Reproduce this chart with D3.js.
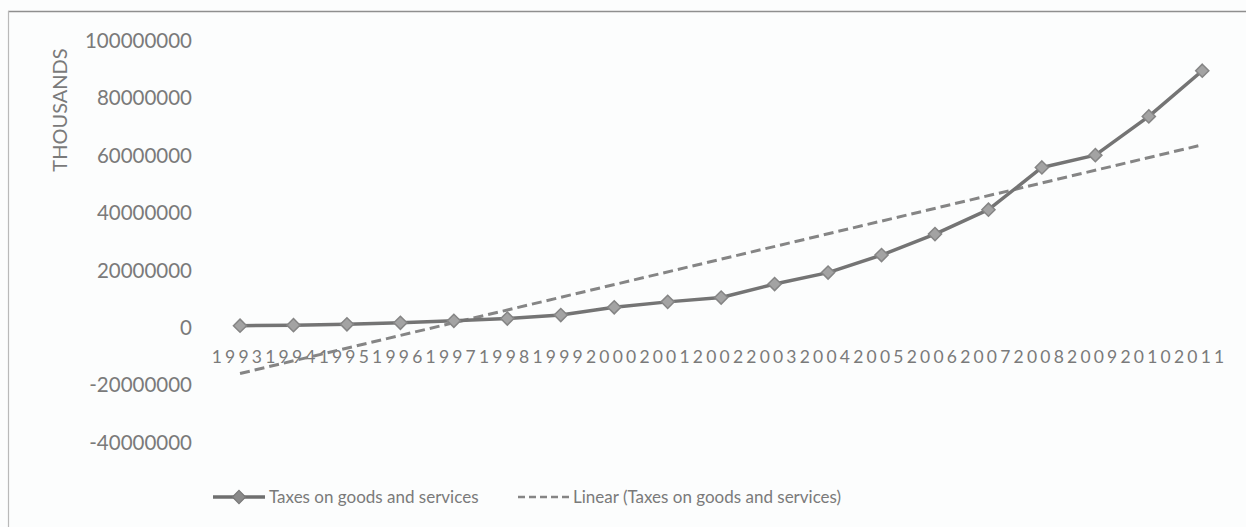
<!DOCTYPE html>
<html><head><meta charset="utf-8">
<script src="https://cdn.jsdelivr.net/npm/d3@7"></script>
<style>
html,body{margin:0;padding:0;background:#fcfdfd;}
svg{display:block;font-family:Lato,"Noto Sans",sans-serif;}
</style></head><body>
<svg id="chart" width="1246" height="527"></svg>
<script>
// ---- data ----
const years = ["1993","1994","1995","1996","1997","1998","1999","2000","2001","2002",
               "2003","2004","2005","2006","2007","2008","2009","2010","2011"];
const taxes = [500000, 700000, 1000000, 1500000, 2200000, 3000000, 4200000, 6900000, 8800000, 10300000,
               15000000, 19000000, 25100000, 32400000, 40900000, 55600000, 59900000, 73400000, 89300000];
const yTicks = [-40000000, -20000000, 0, 20000000, 40000000, 60000000, 80000000, 100000000];
const seriesName = "Taxes on goods and services";
const trendName = "Linear (Taxes on goods and services)";
const yAxisTitle = "THOUSANDS";

// ---- layout ----
const W = 1246, H = 527;
const svg = d3.select("#chart");
const grey = "#7a7a7a";

svg.append("rect").attr("width", W).attr("height", H).attr("fill", "#fcfdfd");
// frame (top and left visible)
svg.append("line").attr("x1", 8).attr("x2", W).attr("y1", 11.5).attr("y2", 11.5)
  .attr("stroke", "#8f8f8f").attr("stroke-width", 1.5);
svg.append("line").attr("x1", 8.5).attr("x2", 8.5).attr("y1", 11).attr("y2", H)
  .attr("stroke", "#b9b9b9").attr("stroke-width", 1.2);

const x = d3.scaleBand().domain(years).range([213.3, 1229]).padding(0);
const cx = d => x(d) + x.bandwidth() / 2;
const y = d3.scaleLinear().domain([-40000000, 100000000]).range([442, 40]);

// y axis (labels only)
const fmt = d => d3.format("d")(d).replace("\u2212", "-");
const yAx = svg.append("g").attr("transform", "translate(200,0)")
  .call(d3.axisLeft(y).tickValues(yTicks).tickSize(0).tickPadding(8).tickFormat(fmt));
yAx.select(".domain").remove();
yAx.selectAll("text").attr("fill", grey).attr("font-size", "20.5px")
  .attr("font-family", "Lato, 'Noto Sans', sans-serif").attr("dy", "0.36em");

// y axis title
svg.append("text").attr("transform", "translate(67,110) rotate(-90)")
  .attr("text-anchor", "middle").attr("fill", grey).attr("font-size", "20px")
  .text(yAxisTitle);

// x axis (labels only, at zero)
const xAx = svg.append("g").attr("transform", `translate(0,${y(0)})`)
  .call(d3.axisBottom(x).tickSize(0).tickPadding(0));
xAx.select(".domain").remove();
xAx.selectAll("text").attr("fill", grey).attr("font-size", "17.5px")
  .attr("font-family", "Lato, 'Noto Sans', sans-serif")
  .attr("y", 0).attr("dy", "36px").attr("dx", "-1.6px")
  .style("letter-spacing", "3.2px");

// linear trend (least squares over series, as the chart's trendline)
const n = taxes.length;
const mx = d3.mean(d3.range(n)), my = d3.mean(taxes);
const slope = d3.sum(d3.range(n), i => (i - mx) * (taxes[i] - my)) / d3.sum(d3.range(n), i => (i - mx) ** 2);
const icpt = my - slope * mx;
svg.append("line")
  .attr("x1", cx(years[0])).attr("y1", y(icpt))
  .attr("x2", cx(years[n - 1])).attr("y2", y(icpt + slope * (n - 1)))
  .attr("stroke", "#858585").attr("stroke-width", 3).attr("stroke-dasharray", "10,5");

// series line
const line = d3.line().x((d, i) => cx(years[i])).y(d => y(d));
svg.append("path").datum(taxes).attr("d", line).attr("fill", "none")
  .attr("stroke", "#747474").attr("stroke-width", 3.5).attr("stroke-linejoin", "round");

const diamond = d3.symbol().type(d3.symbolDiamond2).size(110);
svg.selectAll("path.mk").data(taxes).join("path").attr("class", "mk")
  .attr("d", diamond)
  .attr("transform", (d, i) => `translate(${cx(years[i])},${y(d)})`)
  .attr("fill", "#a3a3a3").attr("stroke", "#858585").attr("stroke-width", 1.5);

// legend
const ly = 497;
svg.append("line").attr("x1", 213).attr("x2", 265).attr("y1", ly).attr("y2", ly)
  .attr("stroke", "#6f6f6f").attr("stroke-width", 3.5);
svg.append("path").attr("d", diamond)
  .attr("transform", `translate(239,${ly})`)
  .attr("fill", "#8a8a8a").attr("stroke", "#777").attr("stroke-width", 1.2);
svg.append("text").attr("x", 269).attr("y", ly).attr("dy", "0.36em")
  .attr("fill", grey).attr("font-size", "17px").text(seriesName);

svg.append("line").attr("x1", 518).attr("x2", 570).attr("y1", ly).attr("y2", ly)
  .attr("stroke", "#858585").attr("stroke-width", 2.5).attr("stroke-dasharray", "7,4");
svg.append("text").attr("x", 573).attr("y", ly).attr("dy", "0.36em")
  .attr("fill", grey).attr("font-size", "17px").text(trendName);
</script>
</body></html>
